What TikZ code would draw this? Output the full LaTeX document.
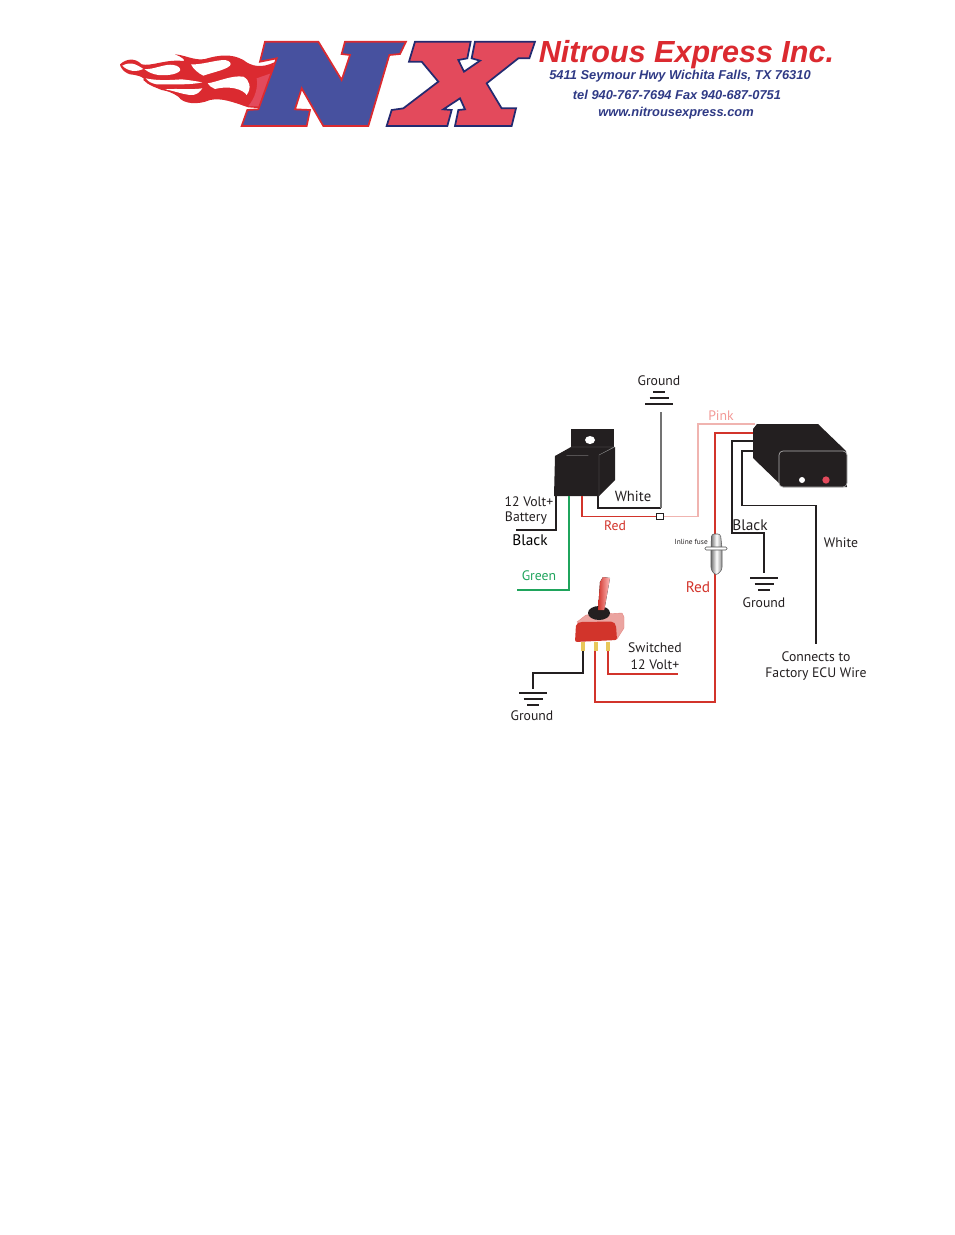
\documentclass[tikz,border=0pt]{standalone}
\usepackage{fontspec}
\setmainfont{PT Sans}
\newfontfamily\logofont{Liberation Sans}
\definecolor{wirered}{HTML}{D2342B}
\definecolor{wirepink}{HTML}{F0B4B0}
\definecolor{wiregreen}{HTML}{1FA45C}
\definecolor{inkblack}{HTML}{231F20}
\definecolor{nxblue}{HTML}{47519F}
\definecolor{nxred}{HTML}{E34A5C}
\definecolor{nxnavy}{HTML}{232A70}
\definecolor{nxedge}{HTML}{DB2A30}
\definecolor{nxtext}{HTML}{2F3A85}
\definecolor{pingold}{HTML}{E8C75A}
\tikzset{
    wire/.style={line width=0.85pt,inkblack},
    redwire/.style={line width=1.1pt,wirered},
    lbl/.style={text=inkblack,font=\fontsize{10.3}{12}\selectfont,inner sep=0pt},
    biglbl/.style={lbl,font=\fontsize{11.5}{13}\selectfont},
    addr/.style={text=nxtext,inner sep=0pt,font=\logofont\bfseries\itshape\fontsize{9.65}{11}\selectfont},
    gndbar/.style={line width=0.8pt,inkblack},
}
\begin{document}
\begin{tikzpicture}[x=0.75pt,y=-0.75pt]
    \useasboundingbox (0,0) rectangle (954,1235);
    % logo flames
    \begin{scope}[shift={(115,45)},scale=1/3]
        \fill[nxedge] (15,58) .. controls (35,40) and (60,38) .. (80,58)
            .. controls (110,65) and (150,42) .. (205,48)
            .. controls (215,48) and (200,35) .. (180,28)
            .. controls (210,30) and (240,48) .. (270,42)
            .. controls (310,30) and (350,25) .. (385,45)
            .. controls (410,65) and (440,70) .. (478,52)
            -- (440,190) -- (400,187)
            .. controls (350,170) and (320,158) .. (285,165)
            .. controls (250,180) and (205,178) .. (190,155)
            .. controls (175,145) and (160,138) .. (140,135)
            .. controls (125,128) and (100,122) .. (85,105)
            .. controls (95,100) and (70,90) .. (45,88)
            .. controls (35,85) and (25,78) .. (20,70)
            .. controls (17,65) and (15,62) .. (15,58) -- cycle;
        \fill[nxred] (425,100) -- (468,85) -- (438,185) -- (400,183) .. controls (420,160) and (430,125) .. (425,100) -- cycle;
        % gaps between the tongues
        \fill[white] (22,62) .. controls (45,50) and (60,55) .. (85,72)
            .. controls (65,82) and (40,80) .. (22,62) -- cycle;
        \fill[white] (88,72) .. controls (115,75) and (150,55) .. (175,60)
            .. controls (190,62) and (198,70) .. (195,77)
            .. controls (185,90) and (150,92) .. (130,90)
            .. controls (115,88) and (100,82) .. (88,72) -- cycle;
        \fill[white] (228,58) .. controls (260,60) and (300,45) .. (330,45)
            .. controls (345,48) and (350,55) .. (345,62)
            .. controls (330,75) and (300,80) .. (265,92)
            .. controls (250,85) and (235,72) .. (228,58) -- cycle;
        \fill[white] (278,115) .. controls (310,110) and (350,90) .. (385,95)
            .. controls (405,105) and (410,130) .. (395,150)
            .. controls (385,135) and (350,120) .. (300,132)
            .. controls (290,128) and (282,122) .. (278,115) -- cycle;
        \fill[white] (92,100) .. controls (130,108) and (170,105) .. (200,103)
            .. controls (220,105) and (240,108) .. (262,112)
            .. controls (230,120) and (170,118) .. (125,118)
            .. controls (110,115) and (100,110) .. (92,100) -- cycle;
        \fill[white] (150,133) .. controls (190,130) and (230,135) .. (262,130)
            .. controls (255,140) and (245,152) .. (225,150)
            .. controls (200,147) and (175,137) .. (150,133) -- cycle;
    \end{scope}
    % logo letters
    \begin{scope}[shift={(110,30)},scale=1/3]
        \filldraw[nxblue,draw=nxedge,line width=1.3pt,line join=miter]
            (465,35) -- (625,35) -- (695,150) -- (720,75) -- (695,72) -- (705,35)
            -- (888,35) -- (870,72) -- (838,75) -- (775,288) -- (640,288) -- (575,175)
            -- (555,238) -- (600,240) -- (590,288) -- (395,288) -- (412,240) -- (445,238)
            -- (500,85) -- (450,95) -- cycle;
        \filldraw[nxred,draw=nxnavy,line width=1.3pt,line join=miter]
            (915,35) -- (1082,35) -- (1072,85) -- (1045,90) -- (1062,125) -- (1110,92)
            -- (1085,85) -- (1095,35) -- (1275,35) -- (1258,85) -- (1225,85) -- (1130,160)
            -- (1175,235) -- (1218,235) -- (1205,288) -- (1035,288) -- (1045,240) -- (1065,238)
            -- (1050,205) -- (1000,238) -- (1025,240) -- (1012,288) -- (830,288) -- (845,240)
            -- (880,235) -- (985,155) -- (935,95) -- (897,95) -- cycle;
    \end{scope}
    \node[text=nxedge,inner sep=0pt,font=\logofont\bfseries\itshape\fontsize{22.9}{24}\selectfont] (title) at (686.5,55) {Nitrous Express Inc.};
    \node[addr] (street) at (680,76.5) {5411 Seymour Hwy Wichita Falls, TX 76310};
    \node[addr] (phone) at (677,95) {tel 940-767-7694 Fax 940-687-0751};
    \node[addr] (web) at (676,113.5) {www.nitrousexpress.com};

    % relay
    \fill[inkblack] (571,429) -- (614,429) -- (614,447) -- (571,447) -- cycle;
    \fill[white] (590,440) ellipse (5 and 4);
    \fill[inkblack] (555,456) -- (571,447) -- (614,447) -- (599,455) -- cycle;
    \fill[inkblack] (555,456) -- (599,455) -- (599,496) -- (554,496) -- cycle;
    \fill[inkblack] (599,455) -- (615,447) -- (615,480) -- (599,496) -- cycle;
    \draw[black!55,line width=0.3pt] (571,447) -- (614,447) -- (599,455) -- (599,496);
    \coordinate (relayblack) at (556,496);
    \coordinate (relaygreen) at (569,496);
    \coordinate (relayred) at (582,496);
    \coordinate (relaywhite) at (598,496);

    % ecu box
    \fill[inkblack] (753,429) -- (757,424) -- (818,424) -- (846,451) -- (847,487) -- (783,487) -- (753,458) -- cycle;
    \draw[white!70!black,line width=0.5pt,fill=inkblack,rounded corners=3pt] (779,487) -- (779,451) -- (847,451) -- (847,487) -- cycle;
    \node[circle,fill=white,inner sep=0pt,minimum size=4.5pt] (ledwhite) at (802,480) {};
    \node[circle,fill=nxred,inner sep=0pt,minimum size=5.5pt] (ledred) at (826,480) {};
    \coordinate (ecupink) at (755,424);
    \coordinate (ecured) at (753,433);
    \coordinate (ecublack) at (753,441);
    \coordinate (ecuwhite) at (753,451);

    % ground marks
    \foreach \gx/\gy/\gs in {659/404/-1,764/578/1,533/693/1} {
        \draw[gndbar] (\gx-14,\gy) -- (\gx+14,\gy);
        \draw[gndbar] (\gx-9.5,\gy+6*\gs) -- (\gx+9.5,\gy+6*\gs);
        \draw[gndbar] (\gx-6,\gy+12*\gs) -- (\gx+6,\gy+12*\gs);
    }
    \coordinate (gndtop) at (661,412);
    \coordinate (gndecu) at (764,573);
    \coordinate (gndswitch) at (533,689);

    % wires
    \node[draw=inkblack,fill=white,inner sep=0pt,minimum size=5pt,line width=0.6pt] (splice) at (660,516.5) {};
    \coordinate (blackend) at (516,530);
    \coordinate (greenend) at (517,590);
    \coordinate (whitebend) at (661,508);
    \coordinate (pinkbend) at (698,516.5);
    \coordinate (redbend) at (715,702);
    \coordinate (blackbend) at (764,533);
    \coordinate (whitedrop) at (816,644);
    \coordinate (swend) at (678,674);
    \coordinate (pinleft) at (583,651);
    \coordinate (pinmid) at (595,651);
    \coordinate (pinright) at (608,651);
    \draw[wire] (relayblack) |- (blackend);
    \draw[wire,wiregreen,line width=1.2pt] (relaygreen) |- (greenend);
    \draw[redwire] (relayred) |- (splice);
    \draw[wire] (relaywhite) |- (whitebend);
    \draw[wire,black!55] (whitebend) -- (gndtop);
    \draw[wire,wirepink] (splice) -- (pinkbend) |- (ecupink);
    \draw[redwire] (ecured) -| (redbend) -| (pinmid);
    \draw[wire] (ecublack) -| (732,533) -- (blackbend) -- (gndecu);
    \draw[wire] (ecuwhite) -| (742,505.7) -| (whitedrop);
    \draw[wire] (pinleft) |- (533,673) -- (gndswitch);
    \draw[redwire] (pinright) |- (swend);

    % inline fuse
    \draw[black!65,left color=black!55,right color=black!45,middle color=white,line width=0.4pt,rounded corners=2pt]
        (711.5,534) -- (720.5,534) -- (722,548) -- (722,570) -- (716,575.5) -- (711,570) -- (711,548) -- cycle;
    \draw[black!70,fill=white,rounded corners=1pt,line width=0.4pt] (705,547) rectangle (727,550);

    % toggle switch
    \fill[wirered!45!white,draw=wirered!60!white,line width=0.3pt] (577,622) -- (586,615) -- (622,613) -- (624,617) -- (624,628) -- (617,639) -- cycle;
    \fill[wirered,rounded corners=1.5pt] (576,624) -- (580,622) -- (613,621.5) -- (616,625) -- (617,640) -- (575,642) -- cycle;
    \foreach \px in {581,593.5,606} {
        \fill[pingold] (\px,642) rectangle (\px+4.4,651);
    }
    \fill[inkblack] (599,613) ellipse (11 and 7);
    \fill[left color=wirered,right color=white!75!red] (598,610) -- (600,582) -- (603,577) -- (610,578) -- (604.3,610) -- cycle;

    % labels
    \node[lbl] (gndtoptxt) at (659,381) {Ground};
    \node[lbl,text=wirepink!85!red] (pinktxt) at (721,416) {Pink};
    \node[lbl] (voltone) at (529,502) {12 Volt+};
    \node[lbl] (battery) at (526,518.5) {Battery};
    \node[biglbl,text=black] (blacktxt) at (530,540) {Black};
    \node[lbl,text=wiregreen] (greentxt) at (539,576) {Green};
    \node[biglbl,font=\fontsize{11}{13}\selectfont] (whitetxt) at (633,496) {White};
    \node[lbl,text=wirered] (redtxt) at (615,526) {Red};
    \node[biglbl,text=wirered] (redfuse) at (698,587) {Red};
    \node[lbl,font=\fontsize{5.5}{6}\selectfont,anchor=east] (fusetxt) at (708,541.5) {Inline fuse};
    \node[biglbl] (blackecu) at (750,525) {Black};
    \node[lbl] (whiteecu) at (841,543) {White};
    \node[lbl] (gndecutxt) at (764,603) {Ground};
    \node[lbl] (swtxt) at (655,648) {Switched};
    \node[lbl] (swvolt) at (655,665) {12 Volt+};
    \node[lbl] (gndswtxt) at (532,716) {Ground};
    \node[lbl] (conntxt) at (816,657) {Connects to};
    \node[lbl] (ecutxt) at (816,674) {Factory ECU Wire};
\end{tikzpicture}
\end{document}
